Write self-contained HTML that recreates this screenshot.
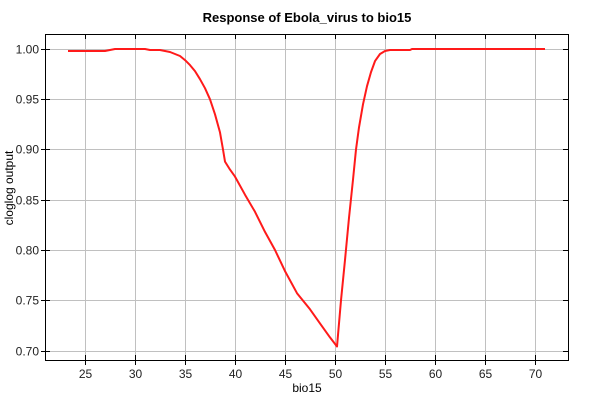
<!DOCTYPE html>
<html><head><meta charset="utf-8"><style>
body{margin:0;background:#fff;width:600px;height:400px;overflow:hidden;font-family:"Liberation Sans",sans-serif}
</style></head><body>
<svg width="600" height="400" xmlns="http://www.w3.org/2000/svg">
<rect width="600" height="400" fill="#fff"/>
<text x="307" y="22" text-anchor="middle" font-size="13" font-weight="bold">Response of Ebola_virus to bio15</text>
<g id="grid"></g>
<rect x="45.5" y="34.5" width="523" height="326" fill="none" stroke="#000"/>
<g id="ticks" font-size="12" fill="#222"></g>
<path id="line" fill="none" stroke="#ff1a1a" stroke-width="2" stroke-linejoin="round"/>
<text x="307" y="392" text-anchor="middle" font-size="12">bio15</text>
<text transform="translate(13,188) rotate(-90)" text-anchor="middle" font-size="12">cloglog output</text>
</svg>
<script>
const xTicks=[25,30,35,40,45,50,55,60,65,70];
const yTicks=[0.70,0.75,0.80,0.85,0.90,0.95,1.00];
const xs=[23.3,27,28,31,31.5,32.5,33.5,34,34.5,35,35.5,36,36.5,37,37.5,38,38.5,38.8,39,39.5,40,41,42,43,44,45,46.2,47.5,48.5,49.5,50.2,50.6,51,51.4,51.8,52.1,52.4,52.8,53.2,53.6,54,54.5,55,55.5,57.5,57.7,71];
const ys=[0.998,0.998,1.0,1.0,0.999,0.999,0.997,0.995,0.993,0.989,0.984,0.978,0.970,0.961,0.950,0.935,0.917,0.900,0.888,0.880,0.873,0.855,0.838,0.818,0.800,0.779,0.757,0.741,0.727,0.713,0.704,0.750,0.790,0.832,0.870,0.900,0.922,0.945,0.963,0.977,0.988,0.995,0.998,0.999,0.999,1.0,1.0];
const X=v=>85+(v-25)*10, Y=v=>49+(1-v)*1005;
const NS="http://www.w3.org/2000/svg";
const g=document.getElementById('grid'), t=document.getElementById('ticks');
function mk(p,tag,a){const e=document.createElementNS(NS,tag);for(const k in a)e.setAttribute(k,a[k]);p.appendChild(e);return e;}
xTicks.forEach(v=>{const x=Math.round(X(v))+0.5;
 const l=mk(g,'line',{x1:x,x2:x,y1:35,y2:360,stroke:'#c0c0c0'});
 
 
 const tk=mk(g,'line',{x1:x,x2:x,y1:34,y2:39,stroke:'#000'});
 
 
 const tk2=mk(g,'line',{x1:x,x2:x,y1:355,y2:365,stroke:'#000'});
 
 
 const s=mk(t,'text',{x:x,y:378,'text-anchor':'middle'});s.textContent=v;
 
 
});
yTicks.forEach(v=>{const y=Math.round(Y(v))+0.5;
 const l=mk(g,'line',{x1:46,x2:568,y1:y,y2:y,stroke:'#c0c0c0'});
 
 
 const tk=mk(g,'line',{x1:41,x2:50,y1:y,y2:y,stroke:'#000'});
 
 
 const tk2=mk(g,'line',{x1:563,x2:568,y1:y,y2:y,stroke:'#000'});
 
 
 const s=mk(t,'text',{x:39,y:y+4,'text-anchor':'end'});s.textContent=v.toFixed(2);
 
 
});
document.getElementById('line').setAttribute('d',xs.map((v,i)=>(i?'L':'M')+X(v).toFixed(1)+','+Y(ys[i]).toFixed(1)).join(''));
</script>
</body></html>
